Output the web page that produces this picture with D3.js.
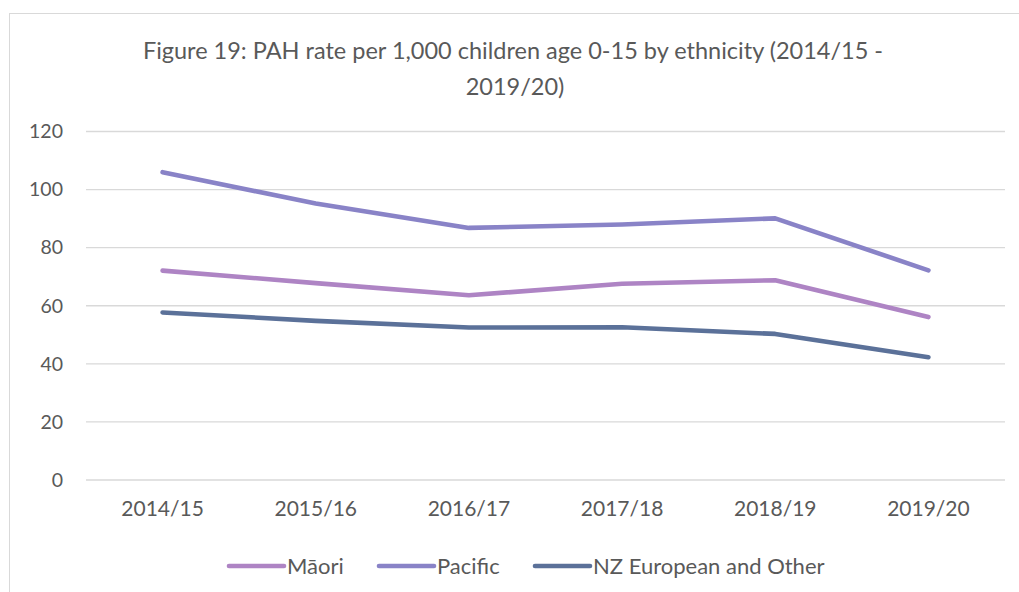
<!DOCTYPE html>
<html>
<head>
<meta charset="utf-8">
<script src="https://cdn.jsdelivr.net/npm/d3@7"></script>
<style>
  body { margin: 0; background: #fff; }
  text { font-family: Lato, "Open Sans", sans-serif; fill: #595959; }
</style>
</head>
<body>
<div id="plot"></div>
<script>
// data
const years = ["2014/15", "2015/16", "2016/17", "2017/18", "2018/19", "2019/20"];
const maori = [72.1, 67.8, 63.6, 67.6, 68.8, 56.1];
const pacific = [106.0, 95.2, 86.8, 88.0, 90.1, 72.2];
const nzEuropean = [57.7, 54.8, 52.5, 52.6, 50.3, 42.3];
const yTicks = [0, 20, 40, 60, 80, 100, 120];

const series = [
  { name: "Māori", values: maori, color: "#ae84c4" },
  { name: "Pacific", values: pacific, color: "#8983c7" },
  { name: "NZ European and Other", values: nzEuropean, color: "#5b7199" }
];

const width = 1019, height = 592;
const plot = { left: 86, right: 1005, top: 131.5, bottom: 480 };

const svg = d3.select("#plot").append("svg")
  .attr("width", width)
  .attr("height", height);

// chart frame
svg.append("rect")
  .attr("x", 9.5).attr("y", 13.5)
  .attr("width", 1030).attr("height", 600)
  .attr("fill", "none")
  .attr("stroke", "#d9d9d9");

// title
const title = svg.append("text")
  .attr("text-anchor", "middle")
  .style("font-size", "23.5px");
title.append("tspan").attr("x", 513).attr("y", 59)
  .text("Figure 19: PAH rate per 1,000 children age 0-15 by ethnicity (2014/15 -");
title.append("tspan").attr("x", 515).attr("y", 95)
  .text("2019/20)");

const x = d3.scaleBand()
  .domain(years)
  .range([plot.left, plot.right]);

const y = d3.scaleLinear()
  .domain([0, 120])
  .range([plot.bottom, plot.top]);

// gridlines
svg.append("g")
  .selectAll("line")
  .data(yTicks)
  .join("line")
  .attr("x1", plot.left).attr("x2", plot.right)
  .attr("y1", d => y(d)).attr("y2", d => y(d))
  .attr("stroke", "#d9d9d9")
  .attr("stroke-width", 1.3);

// y axis labels
const yAxis = svg.append("g")
  .attr("transform", `translate(${plot.left}, 0)`)
  .call(d3.axisLeft(y).tickValues(yTicks).tickSize(0).tickPadding(23));
yAxis.select(".domain").remove();
yAxis.selectAll("text").style("font-size", "19.5px").attr("fill", "#595959");

// x axis labels
const xAxis = svg.append("g")
  .attr("transform", `translate(0, ${plot.bottom})`)
  .call(d3.axisBottom(x).tickSize(0).tickPadding(21));
xAxis.select(".domain").remove();
xAxis.selectAll("text").style("font-size", "21px").attr("fill", "#595959");

const line = d3.line()
  .x((d, i) => x(years[i]) + x.bandwidth() / 2)
  .y(d => y(d));

svg.append("g")
  .selectAll("path")
  .data(series)
  .join("path")
  .attr("d", d => line(d.values))
  .attr("fill", "none")
  .attr("stroke", d => d.color)
  .attr("stroke-width", 4.6)
  .attr("stroke-linecap", "round")
  .attr("stroke-linejoin", "round");

// legend
const legendX = [229, 379, 535];
const legend = svg.append("g")
  .selectAll("g")
  .data(series)
  .join("g")
  .attr("transform", (d, i) => `translate(${legendX[i]}, 566)`);

legend.append("line")
  .attr("x1", 0).attr("x2", 55)
  .attr("stroke", d => d.color)
  .attr("stroke-width", 4.6)
  .attr("stroke-linecap", "round");

legend.append("text")
  .attr("x", 58)
  .attr("dy", "0.35em")
  .style("font-size", "22px")
  .text(d => d.name);
</script>
</body>
</html>
